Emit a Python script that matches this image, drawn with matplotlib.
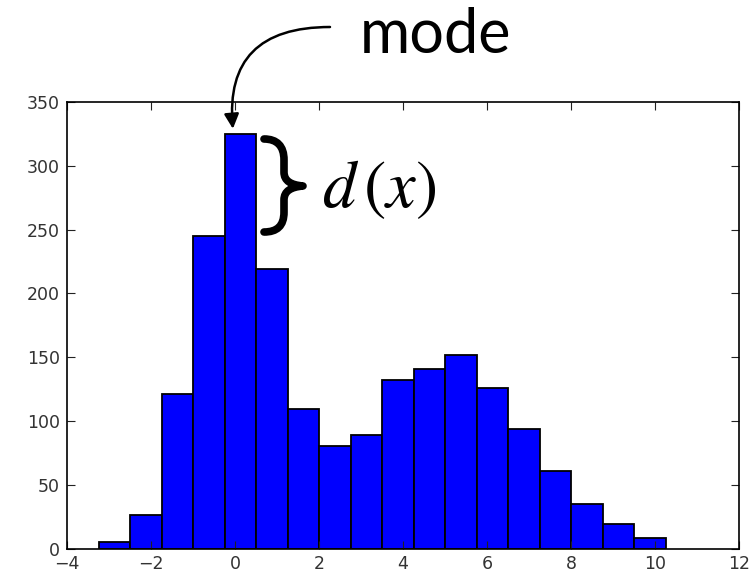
import matplotlib
matplotlib.use("Agg")
import matplotlib.pyplot as plt
from matplotlib.path import Path
from matplotlib.patches import PathPatch
import numpy as np

# histogram counts, 18 bins of width 0.75
bin_start = -3.24
bin_width = 0.75
counts = [5, 26, 121, 245, 325, 219, 109, 80, 89, 132, 141, 152, 126, 94, 61, 35, 19, 8]
x_ticks = [-4, -2, 0, 2, 4, 6, 8, 10, 12]
y_ticks = [0, 50, 100, 150, 200, 250, 300, 350]

edges = bin_start + bin_width * np.arange(len(counts) + 1)

W, H = 752, 577
fig = plt.figure(figsize=(W / 100, H / 100), dpi=100)
ax = fig.add_axes([67 / W, 1 - 548.5 / H, 672 / W, 446.5 / H])

ax.hist(edges[:-1], bins=edges, weights=counts, color="#0000ff",
        edgecolor="black", linewidth=1.3)

ax.set_xlim(-4, 12)
ax.set_ylim(0, 350)
ax.set_xticks(x_ticks)
ax.set_yticks(y_ticks)
ax.set_xticklabels([str(t).replace("-", "\u2212") for t in x_ticks])
ax.tick_params(direction="in", top=True, right=True, length=6, width=0.8,
               labelsize=12.5, colors="#222222", labelcolor="#333333", pad=5)
for s in ax.spines.values():
    s.set_linewidth(1.2)


def px(x, y):
    return (x / W, 1 - y / H)


# "mode" label and curved arrow to the tallest bar
fig.text(360 / W, 1 - 53 / H, "mode", fontsize=44, family="Lato",
         ha="left", va="baseline")
ax.annotate("", xy=(-0.05, 329), xycoords="data",
            xytext=px(330, 27), textcoords="figure fraction",
            arrowprops=dict(arrowstyle="-|>", color="black", lw=1.8,
                            mutation_scale=22, shrinkA=0, shrinkB=0,
                            connectionstyle="angle3,angleA=0,angleB=95"))

# curly brace next to the peak
verts = [px(264, 139), px(277, 139), px(284, 146), px(284, 160),
         px(284, 172),
         px(284, 181), px(291, 185), px(303, 186),
         px(291, 187), px(284, 191), px(284, 200),
         px(284, 212),
         px(284, 226), px(277, 232), px(264, 232)]
codes = [Path.MOVETO, Path.CURVE4, Path.CURVE4, Path.CURVE4,
         Path.LINETO,
         Path.CURVE4, Path.CURVE4, Path.CURVE4,
         Path.CURVE4, Path.CURVE4, Path.CURVE4,
         Path.LINETO,
         Path.CURVE4, Path.CURVE4, Path.CURVE4]
brace = PathPatch(Path(verts, codes), transform=fig.transFigure,
                  facecolor="none", edgecolor="black", lw=5.5,
                  capstyle="round", joinstyle="round")
fig.add_artist(brace)

plt.rcParams["mathtext.fontset"] = "stix"
fig.text(322 / W, 1 - 188 / H, r"$d\,(x)$", fontsize=48,
         ha="left", va="center")

fig.savefig("out.png", dpi=100)
